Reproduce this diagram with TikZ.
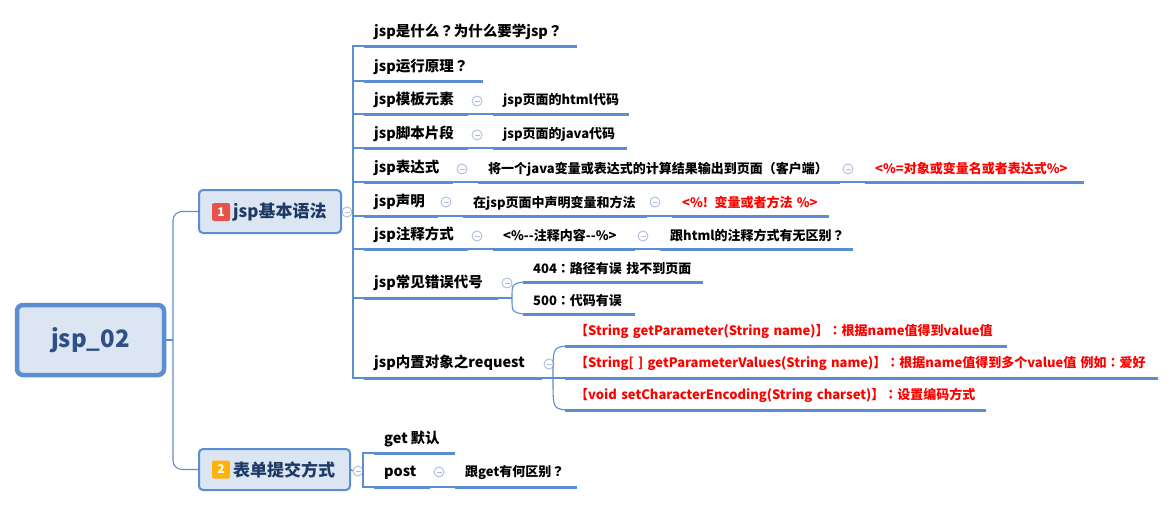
\documentclass[tikz,border=0pt]{standalone}
\usepackage{fontspec}
\setmainfont{Noto Sans CJK SC}
\newfontfamily\tcfont{Noto Sans CJK TC}
\newcommand\QM{{\tcfont ？}}
\newcommand\CL{{\tcfont ：}}
\newcommand\LP{{\tcfont （}}
\newcommand\RP{{\tcfont ）}}
\definecolor{lblue}{HTML}{5B8DD3}
\definecolor{boxfill}{HTML}{DCE6F2}
\definecolor{navy}{HTML}{1E3A64}
\definecolor{rootnavy}{HTML}{2E5087}
\definecolor{circ}{HTML}{AEBCDF}
\definecolor{redtxt}{HTML}{FF0000}
\definecolor{badgered}{HTML}{E9524B}
\definecolor{badgeorange}{HTML}{FFB20A}
\tikzset{
  conn/.style={draw=lblue, line width=1.1pt},
  uline/.style={draw=lblue, line width=3pt},
  topicA/.style={anchor=south west, inner xsep=10pt, inner ysep=0pt, minimum height=28pt,
     align=left, font=\bfseries\fontsize{14.5}{16}\selectfont, text=black},
  topicB/.style={anchor=south west, inner xsep=10pt, inner ysep=0pt, minimum height=26pt,
     align=left, font=\bfseries\fontsize{13}{15}\selectfont, text=black},
  redB/.style={topicB, text=redtxt},
  branchbox/.style={draw=lblue, line width=2pt, fill=boxfill, rounded corners=4pt,
     inner sep=0pt, align=left, font=\bfseries\fontsize{17}{19}\selectfont, text=navy},
  rootbox/.style={draw=lblue, line width=4.5pt, fill=boxfill, rounded corners=6pt,
     inner sep=0pt, font=\bfseries\fontsize{24}{26}\selectfont, text=rootnavy},
  collapse/.style={circle, draw=circ, line width=0.9pt, fill=white, minimum size=10pt, inner sep=0pt,
     path picture={\draw[circ, line width=0.9pt] ([xshift=-2.5pt]path picture bounding box.center) -- ([xshift=2.5pt]path picture bounding box.center);}},
  badge/.style={rounded corners=2pt, minimum width=18pt, minimum height=18pt, inner sep=0pt,
     text=white, font=\bfseries\fontsize{12}{12}\selectfont},
}
\begin{document}
\begin{tikzpicture}[x=1pt,y=-1pt]
\useasboundingbox (0,0) rectangle (1176,507);
% root and branches
\node[rootbox, minimum width=147pt, minimum height=70pt] (root) at (90.5,340) {jsp\_02};
\node[branchbox, minimum width=142pt, minimum height=43pt] (B1) at (270,211.5) {};
\node[badge, fill=badgered] (bd1) at (221,212) {1};
\node[anchor=west, inner sep=0pt, font=\bfseries\fontsize{17}{19}\selectfont, text=navy] (B1t) at (233,212) {jsp基本语法};
\node[branchbox, minimum width=151pt, minimum height=41pt] (B2) at (274.5,469.5) {};
\node[badge, fill=badgeorange] (bd2) at (221,469.5) {2};
\node[anchor=west, inner sep=0pt, font=\bfseries\fontsize{17}{19}\selectfont, text=navy] (B2t) at (233,469.5) {表单提交方式};

\coordinate (rj) at (173,340);
\draw[conn] (root.east) -- (rj);
\draw[conn, rounded corners=9pt] (rj) |- (B1.west);
\draw[conn, rounded corners=9pt] (rj) |- (B2.west);

% branch 1 topics
\node[topicA, text width=193pt] (q1) at (364,46) {jsp是什么\QM 为什么要学jsp\QM};
\node[topicA, text width=99pt] (q2) at (364,81) {jsp运行原理\QM};
\node[topicA, text width=84pt] (q3) at (364,114) {jsp模板元素};
\node[topicA, text width=84pt] (q4) at (364,148) {jsp脚本片段};
\node[topicA, text width=69pt] (q5) at (364,182) {jsp表达式};
\node[topicA, text width=54pt] (q6) at (364,216) {jsp声明};
\node[topicA, text width=84pt] (q7) at (364,249) {jsp注释方式};
\node[topicA, text width=114pt, minimum height=30pt] (q8) at (364,298) {jsp常见错误代号};
\node[topicA, text width=158pt, minimum height=30pt] (q9) at (364,378) {jsp内置对象之request};

\coordinate (bus1) at (353,212);
\node[collapse] (cB1) at (347,212) {};
\draw[conn] (B1.east) -- (cB1.west);
\draw[conn] (cB1.east) -- (bus1);
\foreach \q in {q1,q2,q3,q4,q5,q6,q7,q8,q9}{
  \draw[conn] (bus1) |- (\q.south west);
  \draw[uline] (\q.south west) -- (\q.south east);
}

% level 2
\node[topicB, text width=116pt] (r3) at (493,114) {jsp页面的html代码};
\node[topicB, text width=114pt] (r4) at (493,148) {jsp页面的java代码};
\node[topicB, text width=342pt] (r5) at (478,182) {将一个java变量或表达式的计算结果输出到页面\LP 客户端\RP};
\node[redB, text width=199pt] (r5b) at (865,182) {<\%=对象或变量名或者表达式\%>};
\node[topicB, text width=164pt] (r6) at (463,216) {在jsp页面中声明变量和方法};
\node[redB, text width=137pt] (r6b) at (672,216) {<\%! 变量或者方法 \%>};
\node[topicB, text width=122pt] (r7) at (493,249) {<\%-{}-注释内容-{}-\%>};
\node[topicB, text width=173pt] (r7b) at (660,249) {跟html的注释方式有无区别\QM};
\node[topicB, text width=160pt] (r8a) at (523,282) {404\CL 路径有误 找不到页面};
\node[topicB, text width=92pt] (r8b) at (523,314) {500\CL 代码有误};
\node[redB, text width=422pt, minimum height=28pt] (r9a) at (565,346) {【String getParameter(String name)】\CL 根据name值得到value值};
\node[redB, text width=573pt, minimum height=28pt] (r9b) at (565,378) {【String[ ] getParameterValues(String name)】\CL 根据name值得到多个value值 例如\CL 爱好};
\node[redB, text width=401pt, minimum height=28pt] (r9c) at (565,410) {【void setCharacterEncoding(String charset)】\CL 设置编码方式};

\foreach \r in {r3,r4,r5,r5b,r6,r6b,r7,r7b,r8a,r8b,r9a,r9b,r9c}{
  \draw[uline] (\r.south west) -- (\r.south east);
}

% collapse circles and straight links
\node[collapse] (c3) at (477,101) {};
\node[collapse] (c4) at (477,135) {};
\node[collapse] (c5) at (462,169) {};
\node[collapse] (c5b) at (848,169) {};
\node[collapse] (c6) at (446,202) {};
\node[collapse] (c6b) at (655,202) {};
\node[collapse] (c7) at (477,236) {};
\node[collapse] (c7b) at (643,236) {};
\node[collapse] (c8) at (507,283) {};
\node[collapse] (c9) at (549,364) {};
\draw[conn] (q3.south east) -- (r3.south west);
\draw[conn] (q4.south east) -- (r4.south west);
\draw[conn] (q5.south east) -- (r5.south west);
\draw[conn] (r5.south east) -- (r5b.south west);
\draw[conn] (q6.south east) -- (r6.south west);
\draw[conn] (r6.south east) -- (r6b.south west);
\draw[conn] (q7.south east) -- (r7.south west);
\draw[conn] (r7.south east) -- (r7b.south west);

% curved links
\coordinate (j8) at (512,298);
\draw[conn] (q8.south east) -- (j8);
\draw[conn] (j8) .. controls (512,284) .. (r8a.south west);
\draw[conn] (j8) .. controls (512,312) .. (r8b.south west);
\coordinate (j9) at (553,378);
\draw[conn] (q9.south east) -- (j9);
\draw[conn] (j9) .. controls (553,348) .. (r9a.south west);
\draw[conn] (j9) -- (r9b.south west);
\draw[conn] (j9) .. controls (553,408) .. (r9c.south west);

% branch 2
\node[topicA, text width=61pt] (g1) at (374,453) {get\hspace{3pt}默认};
\node[topicA, text width=36pt] (g2) at (374,487) {post};
\node[topicB, text width=102pt, minimum height=28pt] (g2b) at (455,487) {跟get有何区别\QM};
\coordinate (bus2) at (363,470);
\node[collapse] (cB2) at (358,471) {};
\draw[conn] (B2.east) -- (cB2.west);
\draw[conn] (cB2.east) -- (bus2);
\draw[conn] (bus2) |- (g1.south west);
\draw[conn] (bus2) |- (g2.south west);
\foreach \g in {g1,g2,g2b}{ \draw[uline] (\g.south west) -- (\g.south east); }
\node[collapse] (cg2) at (439,472) {};
\draw[conn] (g2.south east) -- (g2b.south west);
\end{tikzpicture}
\end{document}
